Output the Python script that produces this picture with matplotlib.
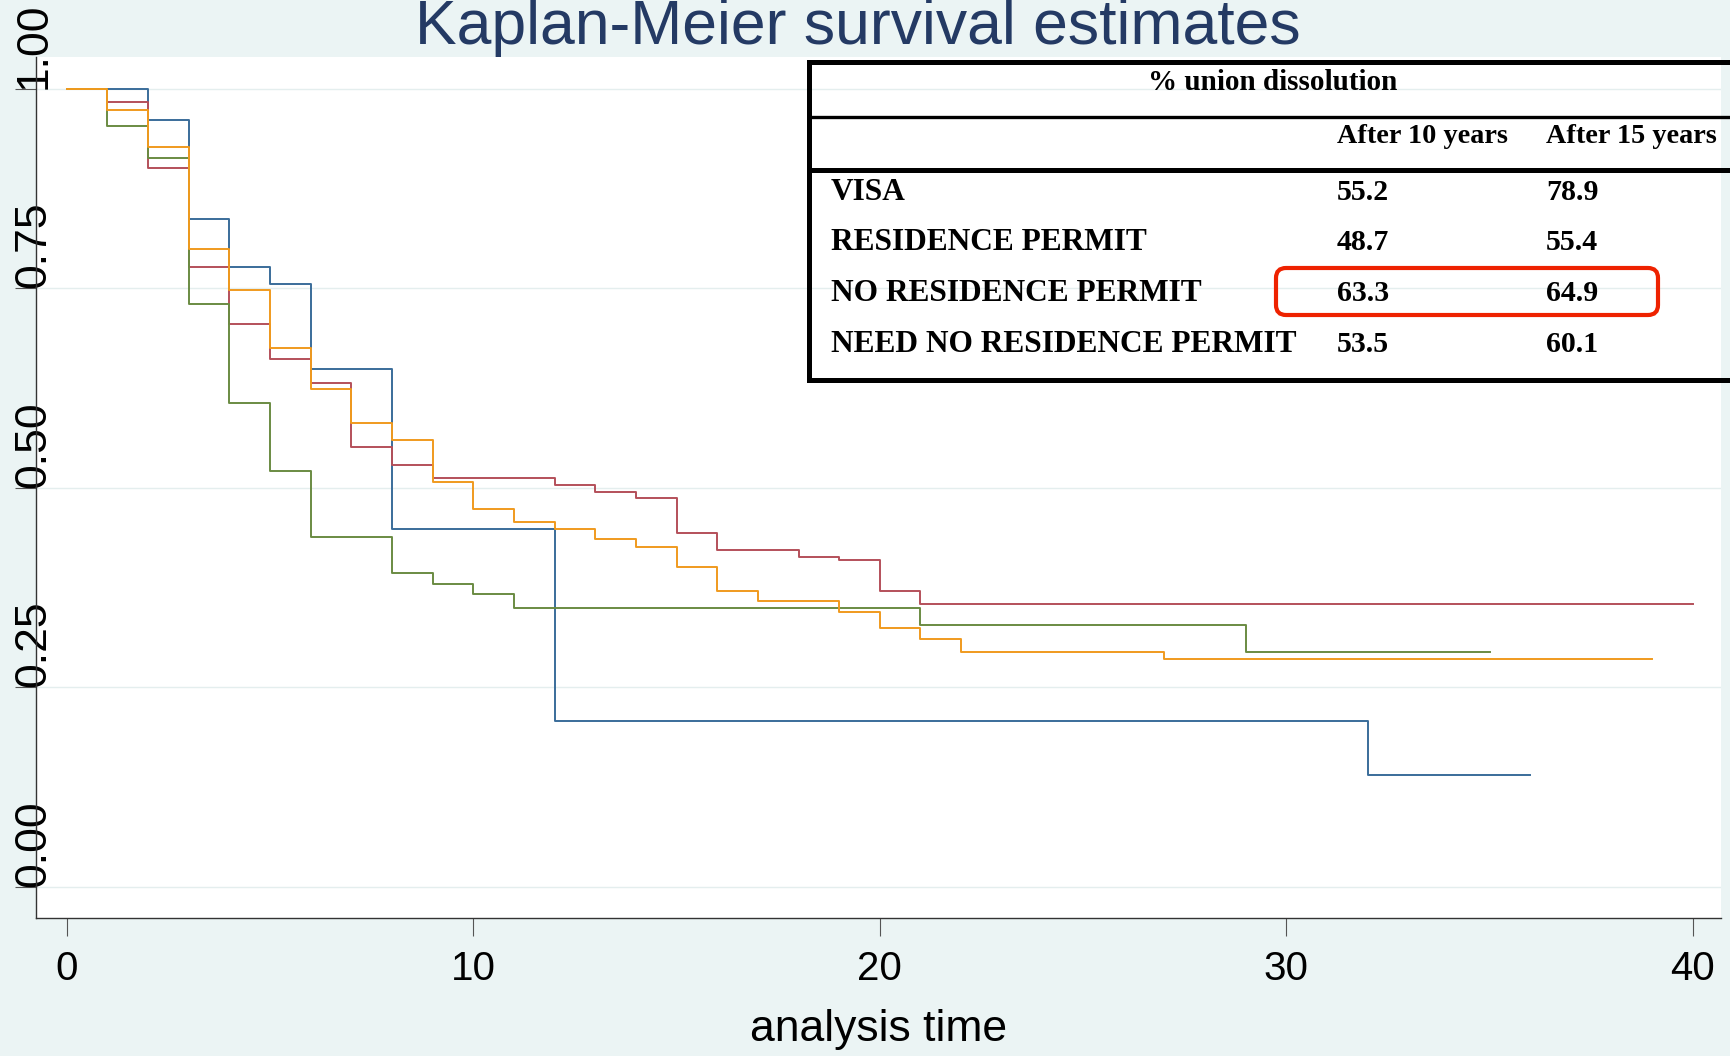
import matplotlib
matplotlib.use('Agg')
import matplotlib.pyplot as plt
from matplotlib.lines import Line2D
from matplotlib.patches import FancyBboxPatch
from matplotlib.transforms import IdentityTransform

# Kaplan-Meier step data (time, survival)
visa_t = [0, 2, 3, 4, 5, 6, 8, 12, 32, 36]
visa_s = [1.0, 0.961, 0.837, 0.777, 0.756, 0.649, 0.449, 0.208, 0.140, 0.140]

resp_t = [0, 1, 2, 3, 4, 5, 6, 7, 8, 9, 12, 13, 14, 15, 16, 18, 19, 20, 21, 40]
resp_s = [1.0, 0.983, 0.901, 0.777, 0.705, 0.662, 0.632, 0.551, 0.529, 0.512,
          0.504, 0.495, 0.487, 0.444, 0.422, 0.414, 0.410, 0.371, 0.355, 0.355]

nores_t = [0, 1, 2, 3, 4, 5, 6, 8, 9, 10, 11, 21, 29, 35]
nores_s = [1.0, 0.953, 0.914, 0.730, 0.607, 0.521, 0.439, 0.393, 0.380, 0.367,
           0.350, 0.328, 0.294, 0.294]

need_t = [0, 1, 2, 3, 4, 5, 6, 7, 8, 9, 10, 11, 12, 13, 14, 15, 16, 17, 19, 20,
          21, 22, 27, 39]
need_s = [1.0, 0.974, 0.927, 0.799, 0.748, 0.675, 0.624, 0.581, 0.560, 0.508,
          0.474, 0.457, 0.448, 0.436, 0.426, 0.401, 0.371, 0.358, 0.345, 0.324,
          0.311, 0.294, 0.286, 0.286]

xticks = [0, 10, 20, 30, 40]
yticks = [0.0, 0.25, 0.5, 0.75, 1.0]
ytick_labels = ['0.00', '0.25', '0.50', '0.75', '1.00']

# table contents
table_title = '% union dissolution'
col_headers = ['After 10 years', 'After 15 years']
row_labels = ['VISA', 'RESIDENCE PERMIT', 'NO RESIDENCE PERMIT', 'NEED NO RESIDENCE PERMIT']
after10 = ['55.2', '48.7', '63.3', '53.5']
after15 = ['78.9', '55.4', '64.9', '60.1']

W, H = 1730, 1056
bg = '#ebf4f4'
sans = 'Liberation Sans'
serif = 'Liberation Serif'

fig = plt.figure(figsize=(W / 100, H / 100), dpi=100)
fig.patch.set_facecolor(bg)
ax = fig.add_axes([36 / W, 1 - 918 / H, (1721 - 36) / W, (918 - 57) / H])
ax.set_facecolor('white')

series = [(visa_t, visa_s, '#3a6d9a'),
          (resp_t, resp_s, '#b4505a'),
          (nores_t, nores_s, '#6a8b42'),
          (need_t, need_s, '#f09a1e')]
for t, s, c in series:
    ax.plot(t, s, drawstyle='steps-post', color=c, lw=1.4)

ax.set_xlim(-0.755, 40.69)
ax.set_ylim(-0.039, 1.040)
ax.grid(axis='y', color='#e4eeee', lw=1.0)
ax.set_axisbelow(True)
for side in ['top', 'right']:
    ax.spines[side].set_visible(False)
for side in ['left', 'bottom']:
    ax.spines[side].set_color('#333333')
    ax.spines[side].set_linewidth(1.0)

ax.set_xticks(xticks)
ax.set_xticklabels([str(v) for v in xticks], fontsize=29, family=sans)
ax.tick_params(axis='x', length=13, width=0.8, color='#555555', pad=10)

ax.set_yticks(yticks)
ax.set_yticklabels(ytick_labels, fontsize=32, family=sans, rotation=90,
                   va='bottom', ha='center')
ax.tick_params(axis='y', length=15, width=0.8, color='#555555', pad=-13.5)

ax.set_xlabel('analysis time', fontsize=32, family=sans, labelpad=15)

fig.text(858 / W, 1 - 44 / H, 'Kaplan-Meier survival estimates', fontsize=45,
         family=sans, color='#243a64', ha='center', va='baseline')

# table overlay, drawn in pixel coordinates (y measured from top)
ident = IdentityTransform()


def hline(y, lw):
    fig.add_artist(Line2D([809, W + 5], [H - y, H - y], transform=ident,
                          color='black', lw=lw, solid_capstyle='projecting'))


hline(62, 3.6)
hline(117, 2.4)
hline(170, 3.6)
hline(380, 3.6)
fig.add_artist(Line2D([809, 809], [H - 62, H - 380], transform=ident,
                      color='black', lw=3.6, solid_capstyle='projecting'))

tfont = dict(family=serif, fontweight='bold', transform=ident,
             va='baseline', color='black')
fig.text(1273, H - 90, table_title, ha='center', fontsize=21, **tfont)
fig.text(1337, H - 143, col_headers[0], ha='left', fontsize=20.3, **tfont)
fig.text(1546, H - 143, col_headers[1], ha='left', fontsize=20.3, **tfont)
row_base = [200, 250, 301, 352]
for lab, a, b, yb in zip(row_labels, after10, after15, row_base):
    fig.text(831, H - yb, lab, ha='left', fontsize=22.6, **tfont)
    fig.text(1337, H - yb, a, ha='left', fontsize=21.5, **tfont)
    fig.text(1546, H - yb, b, ha='left', fontsize=21.5, **tfont)

box = FancyBboxPatch((1276, H - 315), 382, 47, boxstyle='round,pad=0,rounding_size=10',
                     transform=ident, fill=False, edgecolor='#ee2200', lw=3.0)
fig.add_artist(box)

fig.savefig('out.png', dpi=100, facecolor=bg)
